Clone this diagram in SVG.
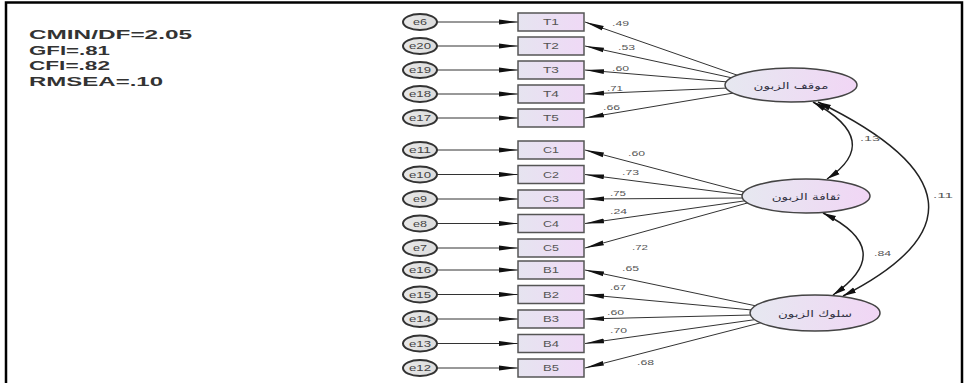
<svg xmlns="http://www.w3.org/2000/svg" width="966" height="383" viewBox="0 0 966 383">
<defs>
<linearGradient id="gBox" x1="0" y1="0" x2="1" y2="0">
<stop offset="0" stop-color="#e6e4f0"/><stop offset="1" stop-color="#efd9f6"/>
</linearGradient>
<linearGradient id="gLat" x1="0" y1="0" x2="1" y2="0">
<stop offset="0" stop-color="#e6e8f0"/><stop offset="1" stop-color="#f1d6f5"/>
</linearGradient>
<linearGradient id="gErr" x1="0" y1="0" x2="1" y2="0">
<stop offset="0" stop-color="#e8e8e8"/><stop offset="1" stop-color="#dcdcdc"/>
</linearGradient>
<marker id="ah" markerUnits="userSpaceOnUse" markerWidth="20" markerHeight="8" refX="19" refY="4" orient="auto">
<path d="M0,1.6 L19,4 L0,6.4 z" fill="#111"/>
</marker>
<marker id="ac" markerUnits="userSpaceOnUse" markerWidth="14" markerHeight="8" refX="13" refY="4" orient="auto-start-reverse">
<path d="M0,1 L13,4 L0,7 z" fill="#111"/>
</marker>
</defs>
<style>
.err{fill:url(#gErr);stroke:#333;stroke-width:2}
.box{fill:url(#gBox);stroke:#555;stroke-width:1.5}
.lat{fill:url(#gLat);stroke:#444;stroke-width:1.5}
.ln{stroke:#333;stroke-width:1;fill:none;marker-end:url(#ah)}
.cv{stroke:#222;stroke-width:1.5;fill:none;marker-start:url(#ac);marker-end:url(#ac)}
text{font-family:"Liberation Sans",Arial,sans-serif}
.lbl{font-size:8px;fill:#555}
.bt{font-size:9px;fill:#555;text-anchor:middle}
.et{font-size:9px;fill:#444;text-anchor:middle}
.fit{font-weight:bold;font-size:12.5px;fill:#333}
.ar{font-family:"DejaVu Sans",sans-serif;font-size:9px;fill:#334;text-anchor:middle}
</style>
<rect x="0" y="0" width="966" height="383" fill="#fff"/>
<rect x="6" y="2.5" width="956" height="400" fill="none" stroke="#000" stroke-width="2.5"/>
<g id="fit">
<text class="fit" x="29" y="39" textLength="163" lengthAdjust="spacingAndGlyphs">CMIN/DF=2.05</text>
<text class="fit" x="29" y="54.5" textLength="81" lengthAdjust="spacingAndGlyphs">GFI=.81</text>
<text class="fit" x="29" y="70" textLength="81" lengthAdjust="spacingAndGlyphs">CFI=.82</text>
<text class="fit" x="29" y="85.5" textLength="134" lengthAdjust="spacingAndGlyphs">RMSEA=.10</text>
</g>
<g id="connectors">
<path class="ln" d="M437,22 L518,22"/>
<path class="ln" d="M437,46 L518,46"/>
<path class="ln" d="M437,70 L518,70"/>
<path class="ln" d="M437,94 L518,94"/>
<path class="ln" d="M437,118 L518,118"/>
<path class="ln" d="M437,150 L518,150"/>
<path class="ln" d="M437,174.5 L518,174.5"/>
<path class="ln" d="M437,199 L518,199"/>
<path class="ln" d="M437,223.5 L518,223.5"/>
<path class="ln" d="M437,248 L518,248"/>
<path class="ln" d="M437,270 L518,270"/>
<path class="ln" d="M437,294.5 L518,294.5"/>
<path class="ln" d="M437,319 L518,319"/>
<path class="ln" d="M437,343.5 L518,343.5"/>
<path class="ln" d="M437,368 L518,368"/>
<path class="ln" d="M745,77.9 L585,22"/>
<path class="ln" d="M745,80.7 L585,46"/>
<path class="ln" d="M745,83.4 L585,70"/>
<path class="ln" d="M745,87.3 L585,94"/>
<path class="ln" d="M745,91.1 L585,118"/>
<path class="ln" d="M760,196.3 L585,150"/>
<path class="ln" d="M760,197.1 L585,174.5"/>
<path class="ln" d="M760,197.9 L585,199"/>
<path class="ln" d="M760,198.7 L585,223.5"/>
<path class="ln" d="M760,199.5 L585,248"/>
<path class="ln" d="M768,308.4 L585,270"/>
<path class="ln" d="M768,311.5 L585,294.5"/>
<path class="ln" d="M768,314.6 L585,319"/>
<path class="ln" d="M768,317.8 L585,343.5"/>
<path class="ln" d="M768,320.9 L585,368"/>
<path class="cv" d="M813,102 Q884,141 827,179"/>
<path class="cv" d="M823,213 Q898,250 833,295"/>
<path class="cv" d="M818,102 Q1026,203 843,296"/>
<text class="lbl" x="612" y="26" textLength="17" lengthAdjust="spacingAndGlyphs">.49</text>
<text class="lbl" x="618" y="50" textLength="17" lengthAdjust="spacingAndGlyphs">.53</text>
<text class="lbl" x="612" y="71" textLength="17" lengthAdjust="spacingAndGlyphs">.60</text>
<text class="lbl" x="607" y="91" textLength="16" lengthAdjust="spacingAndGlyphs">.71</text>
<text class="lbl" x="603" y="110" textLength="17" lengthAdjust="spacingAndGlyphs">.66</text>
<text class="lbl" x="628" y="156" textLength="17" lengthAdjust="spacingAndGlyphs">.60</text>
<text class="lbl" x="622" y="175" textLength="17" lengthAdjust="spacingAndGlyphs">.73</text>
<text class="lbl" x="610" y="196" textLength="16" lengthAdjust="spacingAndGlyphs">.75</text>
<text class="lbl" x="610" y="214" textLength="17" lengthAdjust="spacingAndGlyphs">.24</text>
<text class="lbl" x="632" y="250" textLength="16" lengthAdjust="spacingAndGlyphs">.72</text>
<text class="lbl" x="622" y="271" textLength="17" lengthAdjust="spacingAndGlyphs">.65</text>
<text class="lbl" x="610" y="290" textLength="16" lengthAdjust="spacingAndGlyphs">.67</text>
<text class="lbl" x="607" y="315" textLength="17" lengthAdjust="spacingAndGlyphs">.60</text>
<text class="lbl" x="610" y="333" textLength="17" lengthAdjust="spacingAndGlyphs">.70</text>
<text class="lbl" x="637" y="365" textLength="17" lengthAdjust="spacingAndGlyphs">.68</text>
<text class="lbl" x="860" y="141" textLength="20" lengthAdjust="spacingAndGlyphs">.13</text>
<text class="lbl" x="874" y="256" textLength="17" lengthAdjust="spacingAndGlyphs">.84</text>
<text class="lbl" x="933" y="198" textLength="20" lengthAdjust="spacingAndGlyphs">.11</text>
</g>
<g id="errors">
<g id="e6"><ellipse class="err" cx="420" cy="22" rx="17" ry="8"/><text class="et" x="420" y="25" textLength="14" lengthAdjust="spacingAndGlyphs">e6</text></g>
<g id="e20"><ellipse class="err" cx="420" cy="46" rx="17" ry="8"/><text class="et" x="420" y="49" textLength="22" lengthAdjust="spacingAndGlyphs">e20</text></g>
<g id="e19"><ellipse class="err" cx="420" cy="70" rx="17" ry="8"/><text class="et" x="420" y="73" textLength="22" lengthAdjust="spacingAndGlyphs">e19</text></g>
<g id="e18"><ellipse class="err" cx="420" cy="94" rx="17" ry="8"/><text class="et" x="420" y="97" textLength="22" lengthAdjust="spacingAndGlyphs">e18</text></g>
<g id="e17"><ellipse class="err" cx="420" cy="118" rx="17" ry="8"/><text class="et" x="420" y="121" textLength="22" lengthAdjust="spacingAndGlyphs">e17</text></g>
<g id="e11"><ellipse class="err" cx="420" cy="150" rx="17" ry="8"/><text class="et" x="420" y="153" textLength="22" lengthAdjust="spacingAndGlyphs">e11</text></g>
<g id="e10"><ellipse class="err" cx="420" cy="174.5" rx="17" ry="8"/><text class="et" x="420" y="177.5" textLength="22" lengthAdjust="spacingAndGlyphs">e10</text></g>
<g id="e9"><ellipse class="err" cx="420" cy="199" rx="17" ry="8"/><text class="et" x="420" y="202" textLength="14" lengthAdjust="spacingAndGlyphs">e9</text></g>
<g id="e8"><ellipse class="err" cx="420" cy="223.5" rx="17" ry="8"/><text class="et" x="420" y="226.5" textLength="14" lengthAdjust="spacingAndGlyphs">e8</text></g>
<g id="e7"><ellipse class="err" cx="420" cy="248" rx="17" ry="8"/><text class="et" x="420" y="251" textLength="14" lengthAdjust="spacingAndGlyphs">e7</text></g>
<g id="e16"><ellipse class="err" cx="420" cy="270" rx="17" ry="8"/><text class="et" x="420" y="273" textLength="22" lengthAdjust="spacingAndGlyphs">e16</text></g>
<g id="e15"><ellipse class="err" cx="420" cy="294.5" rx="17" ry="8"/><text class="et" x="420" y="297.5" textLength="22" lengthAdjust="spacingAndGlyphs">e15</text></g>
<g id="e14"><ellipse class="err" cx="420" cy="319" rx="17" ry="8"/><text class="et" x="420" y="322" textLength="22" lengthAdjust="spacingAndGlyphs">e14</text></g>
<g id="e13"><ellipse class="err" cx="420" cy="343.5" rx="17" ry="8"/><text class="et" x="420" y="346.5" textLength="22" lengthAdjust="spacingAndGlyphs">e13</text></g>
<g id="e12"><ellipse class="err" cx="420" cy="368" rx="17" ry="8"/><text class="et" x="420" y="371" textLength="22" lengthAdjust="spacingAndGlyphs">e12</text></g>
</g>
<g id="items">
<g id="T1"><rect class="box" x="518" y="13" width="66" height="18"/><text class="bt" x="551" y="25" textLength="16" lengthAdjust="spacingAndGlyphs">T1</text></g>
<g id="T2"><rect class="box" x="518" y="37" width="66" height="18"/><text class="bt" x="551" y="49" textLength="16" lengthAdjust="spacingAndGlyphs">T2</text></g>
<g id="T3"><rect class="box" x="518" y="61" width="66" height="18"/><text class="bt" x="551" y="73" textLength="16" lengthAdjust="spacingAndGlyphs">T3</text></g>
<g id="T4"><rect class="box" x="518" y="85" width="66" height="18"/><text class="bt" x="551" y="97" textLength="16" lengthAdjust="spacingAndGlyphs">T4</text></g>
<g id="T5"><rect class="box" x="518" y="109" width="66" height="18"/><text class="bt" x="551" y="121" textLength="16" lengthAdjust="spacingAndGlyphs">T5</text></g>
<g id="C1"><rect class="box" x="518" y="141" width="66" height="18"/><text class="bt" x="551" y="153" textLength="16" lengthAdjust="spacingAndGlyphs">C1</text></g>
<g id="C2"><rect class="box" x="518" y="165.5" width="66" height="18"/><text class="bt" x="551" y="177.5" textLength="16" lengthAdjust="spacingAndGlyphs">C2</text></g>
<g id="C3"><rect class="box" x="518" y="190" width="66" height="18"/><text class="bt" x="551" y="202" textLength="16" lengthAdjust="spacingAndGlyphs">C3</text></g>
<g id="C4"><rect class="box" x="518" y="214.5" width="66" height="18"/><text class="bt" x="551" y="226.5" textLength="16" lengthAdjust="spacingAndGlyphs">C4</text></g>
<g id="C5"><rect class="box" x="518" y="239" width="66" height="18"/><text class="bt" x="551" y="251" textLength="16" lengthAdjust="spacingAndGlyphs">C5</text></g>
<g id="B1"><rect class="box" x="518" y="261" width="66" height="18"/><text class="bt" x="551" y="273" textLength="16" lengthAdjust="spacingAndGlyphs">B1</text></g>
<g id="B2"><rect class="box" x="518" y="285.5" width="66" height="18"/><text class="bt" x="551" y="297.5" textLength="16" lengthAdjust="spacingAndGlyphs">B2</text></g>
<g id="B3"><rect class="box" x="518" y="310" width="66" height="18"/><text class="bt" x="551" y="322" textLength="16" lengthAdjust="spacingAndGlyphs">B3</text></g>
<g id="B4"><rect class="box" x="518" y="334.5" width="66" height="18"/><text class="bt" x="551" y="346.5" textLength="16" lengthAdjust="spacingAndGlyphs">B4</text></g>
<g id="B5"><rect class="box" x="518" y="359" width="66" height="18"/><text class="bt" x="551" y="371" textLength="16" lengthAdjust="spacingAndGlyphs">B5</text></g>
</g>
<g id="latents">
<g id="attitude"><ellipse class="lat" cx="791" cy="85" rx="66" ry="17"/><text class="ar" transform="translate(791,88.5) scale(1.5,1)">موقف الزبون</text></g>
<g id="culture"><ellipse class="lat" cx="806" cy="196" rx="64" ry="17"/><text class="ar" transform="translate(806,199.5) scale(1.5,1)">ثقافة الزبون</text></g>
<g id="behavior"><ellipse class="lat" cx="815" cy="313" rx="65" ry="18"/><text class="ar" transform="translate(815,316.5) scale(1.5,1)">سلوك الزبون</text></g>
</g>
</svg>
